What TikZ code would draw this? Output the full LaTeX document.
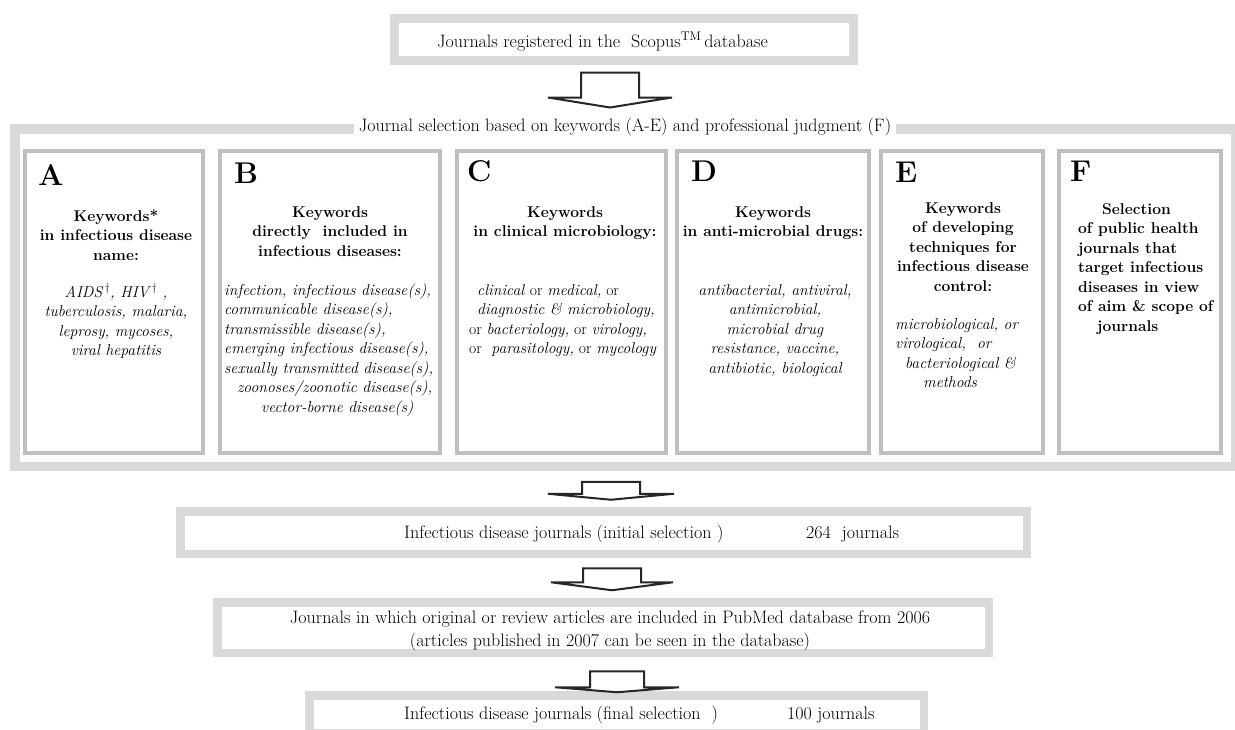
\documentclass[tikz,border=0pt]{standalone}
\usepackage{xcolor}
\usepackage{tikz}
\usetikzlibrary{positioning}
\definecolor{framegray}{RGB}{217,217,217}
\definecolor{cardgray}{RGB}{191,191,191}
\tikzset{
grayframe/.style={
    rectangle,
    draw=framegray,
    line width=9pt,
    fill=white,
    inner sep=0pt
},
card/.style={
    rectangle,
    draw=cardgray,
    line width=4pt,
    fill=white,
    inner sep=0pt
},
cardletter/.style={anchor=base west, inner sep=0pt, font=\fontsize{30}{30}\selectfont\bfseries},
cardhead/.style={anchor=base, align=center, inner sep=0pt, font=\fontsize{15.6}{19.5}\selectfont\bfseries},
carditems/.style={anchor=base, align=center, inner sep=0pt, font=\fontsize{15.7}{19.5}\selectfont\itshape},
flowtext/.style={anchor=base west, inner sep=0pt, font=\fontsize{18}{23.5}\selectfont},
blockarrow/.style={draw=black!85, line width=2pt, fill=white, line join=miter}
}

\begin{document}
\begin{tikzpicture}[x=1pt, y=-1pt]
    \clip (0,0) rectangle (1235,729);

    % node placement (multi-line texts sit on their last baseline)
    \node[grayframe, minimum width=459pt, minimum height=42pt] (scopus) at (624,39.5) {};
    \node[flowtext] (scopustxt) at (437,47) {Journals registered in the\ \ Scopus\textsuperscript{TM}\,database};

    \node[grayframe, line width=9.5pt, minimum width=1221pt, minimum height=337.5pt] (select) at (625.25,297.5) {};
    \node[flowtext, anchor=base, fill=white, inner xsep=5pt, inner ysep=2pt] (selecttxt) at (625,131)
        {Journal selection based on keywords (A-E) and professional judgment (F)};

    \node[card, minimum width=178pt, minimum height=302pt] (A) at (114,302) {};
    \node[card, minimum width=220pt, minimum height=302pt] (B) at (330,302) {};
    \node[card, minimum width=209pt, minimum height=302pt] (C) at (561.5,302) {};
    \node[card, minimum width=192pt, minimum height=302pt] (D) at (773,302) {};
    \node[card, minimum width=162pt, minimum height=302pt] (E) at (962,302) {};
    \node[card, minimum width=162pt, minimum height=302pt] (F) at (1140,302) {};

    \node[cardletter] (Alet) at (38,185) {A};
    \node[cardletter] (Blet) at (234,183) {B};
    \node[cardletter] (Clet) at (467,181) {C};
    \node[cardletter] (Dlet) at (691,181) {D};
    \node[cardletter] (Elet) at (895,182) {E};
    \node[cardletter] (Flet) at (1070,181) {F};

    \node[cardhead] (Ahead) at (116,260) {Keywords*\\in infectious disease\\name:};
    \node[carditems] (Aitems) at (116,355.5)
        {AIDS\,\textsuperscript{\textup{\dag}}, HIV\,\textsuperscript{\textup{\dag}} ,\\tuberculosis, malaria,\\leprosy, mycoses,\\viral hepatitis};

    \node[cardhead] (Bhead) at (330,256) {Keywords\\directly\ \ included in\\infectious diseases:};
    \node[carditems, anchor=base west, align=left] (Bitems) at (224,412)
        {infection, infectious disease(s),\\communicable disease(s),\\transmissible disease(s),\\emerging infectious disease(s),\\sexually transmitted disease(s),\\\hspace*{13pt}zoonoses/zoonotic disease(s),\\\hspace*{37pt}vector-borne disease(s)};

    \node[cardhead] (Chead) at (565,236.5) {Keywords\\in clinical microbiology:};
    \node[carditems, anchor=base west, align=left, font=\fontsize{15.7}{19.5}\selectfont] (Citems) at (469,353.5)
        {\hspace*{8pt}\textit{clinical} or \textit{medical,} or\\\hspace*{8pt}\textit{diagnostic \& microbiology,}\\or \textit{bacteriology,} or \textit{virology,}\\or\ \ \textit{parasitology,} or \textit{mycology}};

    \node[cardhead] (Dhead) at (773,236.5) {Keywords\\in anti-microbial drugs:};
    \node[carditems] (Ditems) at (775,373)
        {antibacterial, antiviral,\\antimicrobial,\\microbial drug\\resistance, vaccine,\\antibiotic, biological};

    \node[cardhead] (Ehead) at (963,291) {Keywords\\of developing\\techniques for\\infectious disease\\control:};
    \node[carditems, anchor=base west, align=left] (Eitems) at (895,387.5)
        {microbiological, or\\virological,\ \ or\\\hspace*{10pt}bacteriological \&\\\hspace*{28pt}methods};

    \node[cardhead, anchor=base west, align=left] (Fhead) at (1078,331)
        {\hspace*{24pt}Selection\\of public health\\journals that\\target infectious\\diseases in view\\of aim \& scope of\\\hspace*{19pt}journals};

    \node[grayframe, line width=8.5pt, minimum width=846.5pt, minimum height=42.5pt] (initial) at (603.5,532.5) {};
    \node[flowtext] (initialtxt) at (404,538) {Infectious disease journals (initial selection\ )};
    \node[flowtext] (initialnum) at (806,538) {264\ \ journals};

    \node[grayframe, line width=8.5pt, minimum width=771.5pt, minimum height=50.5pt] (pubmed) at (603,627.5) {};
    \node[flowtext, anchor=base, align=center] (pubmedtxt) at (610,646.5)
        {Journals in which original or review articles are included in PubMed database from 2006\\(articles published in 2007 can be seen in the database)};

    \node[grayframe, line width=8.5pt, minimum width=614.5pt, minimum height=37.5pt] (final) at (616.5,714) {};
    \node[flowtext] (finaltxt) at (404,719) {Infectious disease journals (final selection\ \ )};
    \node[flowtext] (finalnum) at (787,719) {100 journals};

    % edges
    \draw[blockarrow] (scopus.south) ++(-43,7.5) -- ++(58,0) -- ++(0,25) -- ++(33,0)
        -- ++(-62,10) -- ++(-62,-10) -- ++(33,0) -- cycle;
    \draw[blockarrow] (select.south) ++(-43.25,10.75) -- ++(58,0) -- ++(0,12) -- ++(34,0)
        -- ++(-63,6) -- ++(-63,-6) -- ++(34,0) -- cycle;
    \draw[blockarrow] (initial.south) ++(-20.5,10.25) -- ++(58,0) -- ++(0,14) -- ++(32,0)
        -- ++(-61,8) -- ++(-61,-8) -- ++(32,0) -- cycle;
    \draw[blockarrow] (pubmed.south) ++(-13,14.25) -- ++(54,0) -- ++(0,16) -- ++(35,0)
        -- ++(-62,5) -- ++(-62,-5) -- ++(35,0) -- cycle;

\end{tikzpicture}
\end{document}
